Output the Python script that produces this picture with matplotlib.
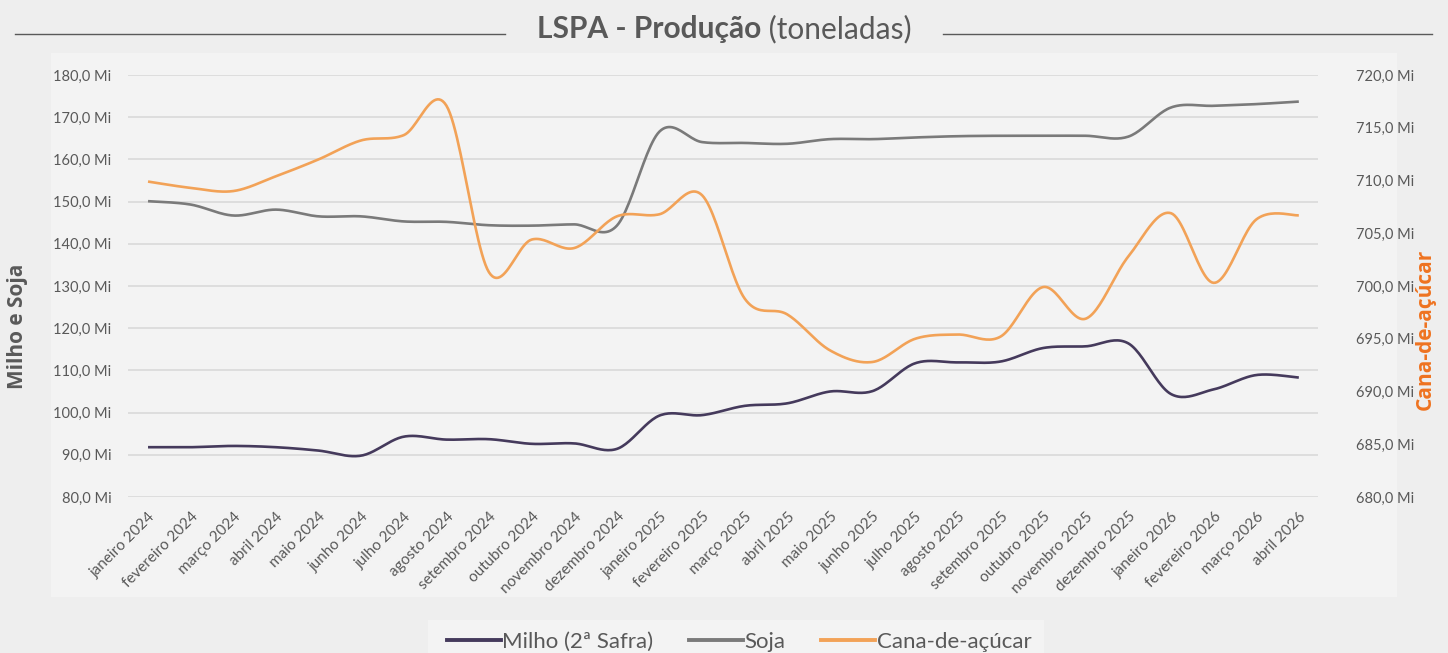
import numpy as np
import matplotlib
matplotlib.use("Agg")
import matplotlib.pyplot as plt
from matplotlib.patches import Rectangle
from matplotlib.lines import Line2D

plt.rcParams['font.family'] = ['Lato', 'DejaVu Sans']

months = ['janeiro 2024', 'fevereiro 2024', 'março 2024', 'abril 2024', 'maio 2024',
          'junho 2024', 'julho 2024', 'agosto 2024', 'setembro 2024', 'outubro 2024',
          'novembro 2024', 'dezembro 2024', 'janeiro 2025', 'fevereiro 2025', 'março 2025',
          'abril 2025', 'maio 2025', 'junho 2025', 'julho 2025', 'agosto 2025',
          'setembro 2025', 'outubro 2025', 'novembro 2025', 'dezembro 2025',
          'janeiro 2026', 'fevereiro 2026', 'março 2026', 'abril 2026']

milho = [91.8, 91.8, 92.1, 91.8, 91.0, 89.8, 94.3, 93.6, 93.7, 92.6, 92.7, 91.4,
         99.3, 99.4, 101.6, 102.2, 105.0, 105.1, 111.7, 111.9, 112.1, 115.3, 115.7, 116.4,
         104.4, 105.5, 108.9, 108.3]

soja = [150.1, 149.3, 146.7, 148.1, 146.5, 146.5, 145.3, 145.2, 144.4, 144.3, 144.6, 144.3,
        166.6, 164.1, 163.9, 163.7, 164.8, 164.8, 165.2, 165.5, 165.6, 165.6, 165.6, 165.4,
        172.3, 172.7, 173.1, 173.7]

cana = [709.9, 709.3, 709.0, 710.4, 712.0, 713.8, 714.3, 717.1, 701.3, 704.4, 703.6, 706.6,
        706.8, 708.6, 698.8, 697.3, 693.9, 692.8, 695.0, 695.4, 695.2, 699.9, 696.9, 702.8,
        706.9, 700.3, 706.3, 706.7]

left_ticks = [80, 90, 100, 110, 120, 130, 140, 150, 160, 170, 180]
right_ticks = [680, 685, 690, 695, 700, 705, 710, 715, 720]


def smooth(y, n=24):
    """Excel-like smoothed line (Catmull-Rom as cubic Bezier)."""
    y = np.asarray(y, float)
    x = np.arange(len(y), dtype=float)
    P = np.column_stack([x, y])
    out = []
    for i in range(len(P) - 1):
        p0 = P[i - 1] if i > 0 else P[i]
        p1 = P[i]
        p2 = P[i + 1]
        p3 = P[i + 2] if i + 2 < len(P) else P[i + 1]
        c1 = p1 + (p2 - p0) / 6.0
        c2 = p2 - (p3 - p1) / 6.0
        t = np.linspace(0, 1, n, endpoint=(i == len(P) - 2))[:, None]
        seg = ((1 - t) ** 3) * p1 + 3 * ((1 - t) ** 2) * t * c1 + 3 * (1 - t) * t ** 2 * c2 + t ** 3 * p2
        out.append(seg)
    out = np.vstack(out)
    return out[:, 0], out[:, 1]


W, H = 1448, 653
fig = plt.figure(figsize=(W / 100, H / 100), dpi=100)
fig.patch.set_facecolor('#eeeeee')

# lighter panels (behind everything)
fig.patches.append(Rectangle((51 / W, 1 - 597 / H), (1397 - 51) / W, (597 - 53) / H,
                             transform=fig.transFigure, facecolor='#f3f3f3',
                             edgecolor='none', zorder=-10))
fig.patches.append(Rectangle((428 / W, 0), (1044 - 428) / W, (653 - 620) / H,
                             transform=fig.transFigure, facecolor='#f3f3f3',
                             edgecolor='none', zorder=-10))

ax = fig.add_axes([128 / W, 1 - 497 / H, (1318 - 128) / W, (497 - 75) / H])
ax.set_facecolor('none')
ax2 = ax.twinx()
ax2.set_facecolor('none')

x = np.arange(len(months))
c_milho = '#453a5c'
c_soja = '#7a7a7a'
c_cana = '#f2a257'
txt = '#595959'

xs, ys = smooth(milho)
ax.plot(xs, ys, color=c_milho, lw=1.9, solid_capstyle='butt', zorder=3)
xs, ys = smooth(soja)
ax.plot(xs, ys, color=c_soja, lw=1.9, solid_capstyle='butt', zorder=3)
xs, ys = smooth(cana)
ax2.plot(xs, ys, color=c_cana, lw=1.9, solid_capstyle='butt', zorder=3)

ax.set_xlim(-0.47, len(months) - 1 + 0.45)
ax.set_ylim(80, 180)
ax2.set_ylim(680, 720)
ax.set_yticks(left_ticks)
ax.set_yticklabels([f'{v:.1f} Mi'.replace('.', ',') for v in left_ticks])
ax2.set_yticks(right_ticks)
ax2.set_yticklabels([f'{v:.1f} Mi'.replace('.', ',') for v in right_ticks])
ax.set_xticks(x)
ax.set_xticklabels(months, rotation=45, ha='right', va='top', rotation_mode='anchor')

ax.grid(axis='y', color='#d9d9d9', lw=1.2, zorder=0)
ax.set_axisbelow(True)
for a in (ax, ax2):
    for s in a.spines.values():
        s.set_visible(False)
ax.tick_params(axis='both', length=0, colors=txt, labelsize=10.5)
ax.tick_params(axis='x', labelsize=11)
ax.tick_params(axis='y', pad=12)
ax.tick_params(axis='x', pad=9)
ax2.tick_params(axis='y', length=0, colors=txt, labelsize=10.5, pad=27)

fig.text(18 / W, 1 - 326 / H, 'Milho e Soja', rotation=90, ha='center', va='center',
         fontsize=15, fontweight='bold', color=txt, family=['Open Sans', 'DejaVu Sans'])
fig.text(1425 / W, 1 - 329 / H, 'Cana-de-açúcar', rotation=90, ha='center', va='center',
         fontsize=15, fontweight='bold', color='#ee7320', family=['Open Sans', 'DejaVu Sans'])

# title with bold + regular parts, centered
renderer = fig.canvas.get_renderer()
t1 = fig.text(0, 0, 'LSPA - Produção', fontsize=21.5, fontweight='bold', color=txt)
t2 = fig.text(0, 0, ' (toneladas)', fontsize=21.5, color=txt)
w1 = t1.get_window_extent(renderer).width
w2 = t2.get_window_extent(renderer).width
cx = 724
start = cx - (w1 + w2) / 2
ty = 1 - 29 / H
t1.set_position((start / W, ty)); t1.set_va('center')
t2.set_position(((start + w1) / W, ty)); t2.set_va('center')
fig.add_artist(Line2D([15 / W, 505 / W], [1 - 34 / H] * 2, transform=fig.transFigure,
                      color='#595959', lw=1.0))
fig.add_artist(Line2D([943 / W, 1432 / W], [1 - 34 / H] * 2, transform=fig.transFigure,
                      color='#595959', lw=1.0))

handles = [Line2D([], [], color=c_milho, lw=2.8),
           Line2D([], [], color=c_soja, lw=2.8),
           Line2D([], [], color=c_cana, lw=2.8)]
leg = fig.legend(handles, ['Milho (2ª Safra)', 'Soja', 'Cana-de-açúcar'],
                 loc='center', bbox_to_anchor=(739 / W, 1 - 642 / H), ncol=3,
                 frameon=False, fontsize=16, handlelength=2.45, handletextpad=0.05,
                 columnspacing=1.6, labelcolor=txt)

fig.savefig('out.png', dpi=100, facecolor=fig.get_facecolor())
